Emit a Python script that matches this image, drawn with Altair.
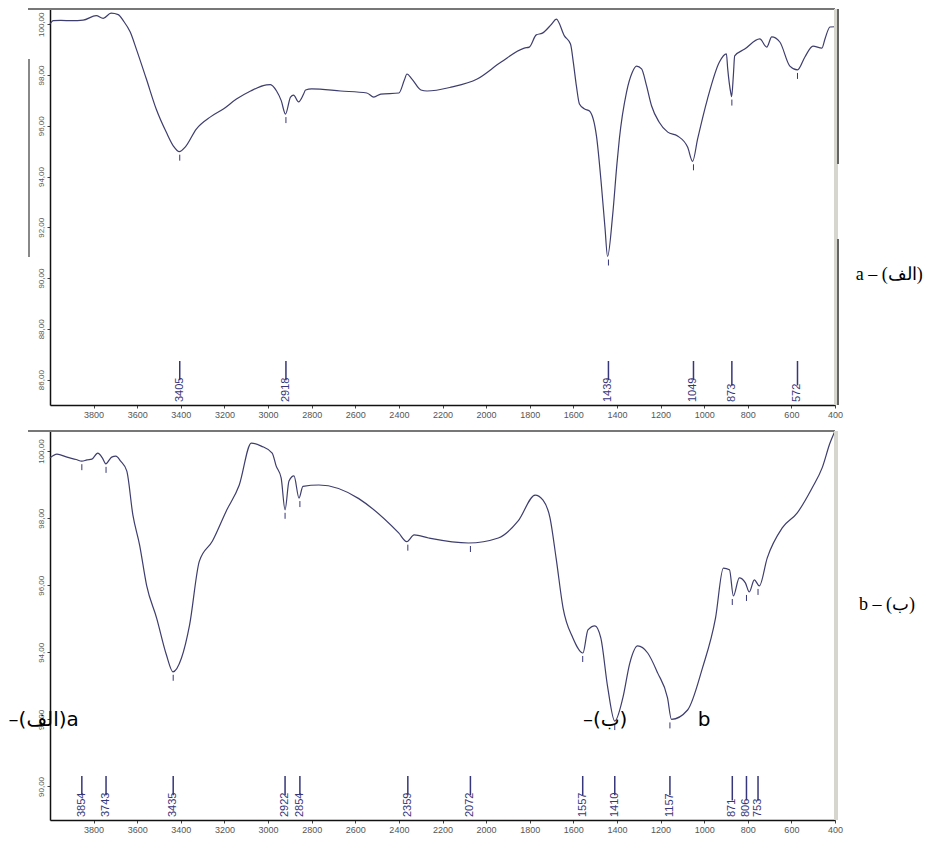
import altair as alt
import pandas as pd

# ---------------- data ----------------
# spectrum (a) : wavenumber / transmittance
wn_a = [4000, 3985, 3950, 3900, 3848, 3788, 3756, 3720, 3687, 3664, 3632, 3604, 3558, 3513,
        3467, 3434, 3407, 3380, 3329, 3264, 3205, 3145, 3080, 3007, 2989, 2961, 2940, 2920,
        2897, 2883, 2860, 2837, 2828, 2800, 2667, 2547, 2515, 2483, 2400, 2375, 2363, 2340,
        2299, 2271, 2161, 2041, 1931, 1825, 1802, 1770, 1742, 1700, 1678, 1641, 1613, 1600,
        1586, 1572, 1548, 1526, 1494, 1471, 1455, 1443, 1420, 1400, 1389, 1356, 1330, 1310,
        1287, 1265, 1241, 1207, 1167, 1122, 1076, 1053, 1030, 985, 930, 898, 892, 878, 874,
        866, 860, 814, 745, 713, 690, 653, 607, 572, 538, 501, 460, 446, 423, 400]
t_a = [100.0, 100.14, 100.15, 100.14, 100.16, 100.34, 100.23, 100.44, 100.38, 100.14, 99.69,
       99.02, 97.84, 96.66, 95.75, 95.2, 94.98, 95.16, 95.87, 96.35, 96.66, 97.05, 97.37, 97.61,
       97.62, 97.37, 97.0, 96.46, 97.13, 97.21, 96.94, 97.25, 97.41, 97.45, 97.37, 97.29, 97.13,
       97.25, 97.29, 97.8, 98.04, 97.84, 97.41, 97.37, 97.52, 97.84, 98.51, 99.06, 99.1, 99.58,
       99.65, 100.0, 100.2, 99.54, 99.22, 98.5, 97.57, 96.86, 96.66, 96.58, 95.6, 93.63, 92.0,
       90.85, 92.45, 94.5, 95.48, 97.33, 98.1, 98.35, 98.24, 97.6, 96.78, 96.15, 95.75, 95.6,
       95.16, 94.6, 95.48, 97.05, 98.51, 98.83, 98.24, 97.3, 97.15, 98.0, 98.75, 99.02, 99.42,
       99.1, 99.5, 99.3, 98.35, 98.2, 98.71, 99.14, 99.06, 99.42, 99.89, 99.9]

# spectrum (b)
wn_b = [4000, 3968, 3922, 3880, 3854, 3830, 3808, 3781, 3760, 3744, 3730, 3717, 3698, 3676,
        3648, 3620, 3589, 3557, 3511, 3466, 3436, 3397, 3360, 3315, 3255, 3192, 3132, 3077,
        3031, 2981, 2963, 2940, 2922, 2904, 2881, 2858, 2840, 2767, 2401, 2364, 2330, 2264,
        2081, 1944, 1853, 1775, 1739, 1707, 1679, 1647, 1602, 1556, 1533, 1501, 1474, 1442,
        1410, 1373, 1341, 1305, 1259, 1213, 1168, 1150, 1076, 1008, 948, 912, 884, 866, 839,
        811, 793, 770, 747, 711, 642, 574, 505, 459, 423, 400]
t_b = [99.8, 99.91, 99.82, 99.75, 99.7, 99.74, 99.76, 99.94, 99.8, 99.62, 99.72, 99.82, 99.85,
       99.7, 99.41, 98.1, 97.2, 96.0, 95.02, 93.92, 93.42, 93.83, 94.81, 96.72, 97.32, 98.21,
       98.99, 100.24, 100.15, 99.94, 99.56, 99.2, 98.25, 99.11, 99.26, 98.6, 98.95, 98.99, 97.56,
       97.3, 97.5, 97.41, 97.26, 97.41, 97.92, 98.69, 98.54, 98.01, 96.81, 95.32, 94.43, 93.98,
       94.67, 94.79, 94.43, 92.94, 91.95, 92.64, 93.68, 94.19, 93.98, 93.38, 92.64, 92.0, 92.28,
       93.53, 95.02, 96.51, 96.46, 95.68, 96.22, 96.07, 95.8, 96.16, 95.98, 96.81, 97.71, 98.15,
       98.9, 99.5, 100.24, 100.6]

peaks_a = [3405, 2918, 1439, 1049, 873, 572]
peaks_a_min = [94.98, 96.46, 90.85, 94.6, 97.15, 98.2]
peaks_b = [3854, 3743, 3435, 2922, 2854, 2359, 2072, 1557, 1410, 1157, 871, 806, 753]
peaks_b_min = [99.7, 99.62, 93.42, 98.25, 98.6, 97.3, 97.26, 93.98, 91.95, 92.0, 95.68, 95.8, 95.98]

x_ticks = [3800, 3600, 3400, 3200, 3000, 2800, 2600, 2400, 2200, 2000, 1800, 1600, 1400,
           1200, 1000, 800, 600, 400]
y_ticks_a = [86, 88, 90, 92, 94, 96, 98, 100]
y_ticks_b = [90, 92, 94, 96, 98, 100]

label_a = "a – (الف)"
label_b = "b – (ب)"
overlay_left = "–(الف)a"
overlay_mid = "–(ب)"
overlay_b = "b"

# ---------------- style ----------------
W = 785
LINE = "#3d3d6e"
NAVY = "#36367a"
XLAB = "#555555"


def make_panel(wn, t, pk, pkmin, ydom, yticks, h, texts):
    span = ydom[1] - ydom[0]
    upp = span / h  # data units per pixel
    xs = alt.Scale(domain=[400, 4000], reverse=True, nice=False, zero=False)
    ys = alt.Scale(domain=ydom, nice=False, zero=False)
    xax = alt.Axis(values=x_ticks, format="d", title=None, grid=False, labelFontSize=9,
                   labelColor=XLAB, labelFont="Liberation Sans", tickSize=3, tickColor="#444",
                   domainColor="#111", domainWidth=1.5, labelPadding=2, labelFlush=False)
    yax = alt.Axis(values=yticks, title=None, grid=False, labelFontSize=8, labelColor=XLAB,
                   labelFont="Liberation Sans", labelAngle=270, labelAlign="center",
                   labelBaseline="bottom", labelPadding=2, tickSize=3, tickColor="#444",
                   domainColor="#111", domainWidth=1.5,
                   labelExpr="replace(format(datum.value, '.2f'), '.', ',')")

    spec = pd.DataFrame({"wn": wn, "t": t})
    base_line = alt.Chart(spec).mark_line(color=LINE, strokeWidth=1.2,
                                          interpolate="monotone").encode(
        x=alt.X("wn:Q", scale=xs, axis=xax),
        y=alt.Y("t:Q", scale=ys, axis=yax),
        order="wn:Q",
    )

    # small marks under each minimum
    mk = pd.DataFrame({"wn": pk,
                       "lo": [m - 3 * upp for m in pkmin],
                       "hi": [m - 9 * upp for m in pkmin]})
    marks = alt.Chart(mk).mark_rule(color=NAVY, strokeWidth=1).encode(
        x=alt.X("wn:Q", scale=xs), y=alt.Y("lo:Q", scale=ys), y2="hi:Q")

    # peak labels with leader lines
    anchor = ydom[0] + 3 * upp
    top = ydom[0] + 44 * upp
    lab = pd.DataFrame({"wn": pk, "label": [str(p) for p in pk]})
    lab["anchor"] = anchor
    lab["top"] = top
    lab["bot"] = [anchor + (len(s) * 5.2 + 1) * upp for s in lab["label"]]
    leaders = alt.Chart(lab).mark_rule(color=NAVY, strokeWidth=1.5).encode(
        x=alt.X("wn:Q", scale=xs), y=alt.Y("top:Q", scale=ys), y2="bot:Q")
    ltext = alt.Chart(lab).mark_text(angle=270, align="left", baseline="middle",
                                     fontSize=11, color=NAVY,
                                     font="Liberation Sans Narrow, Liberation Sans").encode(
        x=alt.X("wn:Q", scale=xs), y=alt.Y("anchor:Q", scale=ys), text="label:N")

    # frame decorations
    frame_top = alt.Chart(spec).mark_rule(color="#777777", strokeWidth=2).encode(
        x=alt.value(-22), x2=alt.value(W), y=alt.value(0))
    right_edge = alt.Chart(spec).mark_rule(color="#d6d6ce", strokeWidth=3).encode(
        x=alt.value(W + 1), y=alt.value(0), y2=alt.value(h))

    layers = [base_line, marks, leaders, ltext, frame_top, right_edge]
    for tx in texts:
        df = pd.DataFrame({"wn": [tx["wn"]], "t": [tx["t"]], "s": [tx["s"]]})
        layers.append(alt.Chart(df).mark_text(align="left", baseline="middle",
                                              fontSize=tx["size"], font=tx["font"],
                                              color="#000000").encode(
            x=alt.X("wn:Q", scale=xs), y=alt.Y("t:Q", scale=ys), text="s:N"))
    return layers


texts_a = [
    {"wn": 305, "t": 90.12, "s": label_a, "size": 18, "font": "Liberation Serif, DejaVu Serif"},
]
texts_b = [
    {"wn": 290, "t": 95.41, "s": label_b, "size": 18, "font": "Liberation Serif, DejaVu Serif"},
    {"wn": 4190, "t": 91.98, "s": overlay_left, "size": 20, "font": "DejaVu Sans"},
    {"wn": 1556, "t": 91.98, "s": overlay_mid, "size": 20, "font": "DejaVu Sans"},
    {"wn": 1030, "t": 91.98, "s": overlay_b, "size": 20, "font": "DejaVu Sans"},
]

layers_a = make_panel(wn_a, t_a, peaks_a, peaks_a_min, [85.0, 100.6], y_ticks_a, 396, texts_a)
layers_b = make_panel(wn_b, t_b, peaks_b, peaks_b_min, [89.0, 100.6], y_ticks_b, 389, texts_b)

# extra artifacts of the original scan
spec_a = pd.DataFrame({"wn": wn_a})
left_bar = alt.Chart(spec_a).mark_rule(color="#888888", strokeWidth=2).encode(
    x=alt.value(-21), y=alt.value(50), y2=alt.value(248))
dark_r1 = alt.Chart(spec_a).mark_rule(color="#666666", strokeWidth=1.5).encode(
    x=alt.value(W + 3), y=alt.value(0), y2=alt.value(155))
dark_r2 = alt.Chart(spec_a).mark_rule(color="#666666", strokeWidth=1.5).encode(
    x=alt.value(W + 3), y=alt.value(230), y2=alt.value(396))

top_chart = alt.layer(*layers_a, left_bar, dark_r1, dark_r2).properties(width=W, height=396)
bot_chart = alt.layer(*layers_b).properties(width=W, height=389)

chart = alt.vconcat(top_chart, bot_chart, spacing=8).properties(
    padding={"left": 0, "top": -1, "right": 2, "bottom": 0}
).configure_view(stroke=None).configure(background="white")

chart.save("out.html", embed_options={"renderer": "svg", "actions": False})
